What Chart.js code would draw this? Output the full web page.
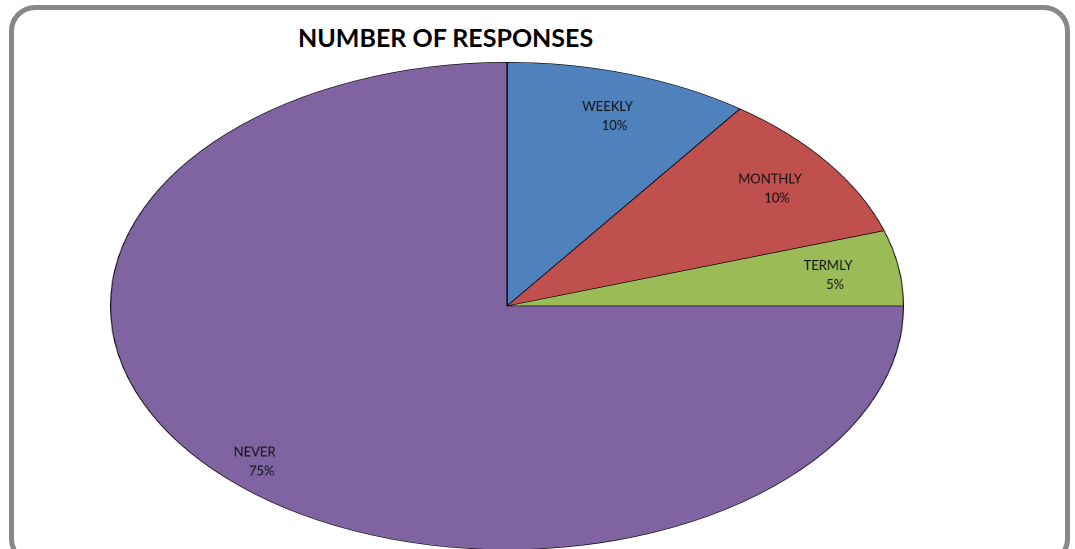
<!DOCTYPE html>
<html>
<head>
<meta charset="utf-8">
<script src="https://cdn.jsdelivr.net/npm/chart.js@4.4.1/dist/chart.umd.min.js"></script>
<style>
    html, body { margin: 0; padding: 0; background: #fff; overflow: hidden; }
    body { width: 1075px; height: 549px; position: relative; }
    .frame {
        position: absolute; left: 9px; top: 5px; width: 1061px; height: 560px;
        border: 5px solid #888; border-radius: 26px; box-sizing: border-box;
    }
    .title {
        position: absolute; left: 298px; top: 22px;
        font: bold 25px Lato, "Open Sans", sans-serif; color: #000; white-space: nowrap;
    }
    #pie { position: absolute; left: 110px; top: 62px; width: 794px !important; height: 488px !important; }
</style>
</head>
<body>
<div class="frame"></div>
<div class="title">NUMBER OF RESPONSES</div>
<canvas id="pie" width="488" height="488" style="width:794px;height:488px"></canvas>
<script>
// DATA
const categories = ['WEEKLY', 'MONTHLY', 'TERMLY', 'NEVER'];
const responses = [10, 10, 5, 75];
const colors = ['#4F81BD', '#C0504D', '#9BBB59', '#8064A2'];

// canvas is drawn square and stretched by css into an ellipse
const STRETCH = 794 / 488;

// labels drawn un-stretched so text keeps its shape
const sliceLabels = {
    id: 'sliceLabels',
    afterDatasetsDraw(chart) {
        const ctx = chart.ctx;
        const arcs = chart.getDatasetMeta(0).data;
        const total = responses.reduce((a, b) => a + b, 0);
        arcs.forEach((arc, i) => {
            const mid = (arc.startAngle + arc.endAngle) / 2;
            const f = responses[i] > 50 ? 0.9 : 0.82;
            const x = arc.x + Math.cos(mid) * arc.outerRadius * f;
            const y = arc.y + Math.sin(mid) * arc.outerRadius * f;
            ctx.save();
            ctx.translate(x, y);
            ctx.scale(1 / STRETCH, 1);
            ctx.fillStyle = '#111';
            ctx.font = '13px Lato, "Open Sans", sans-serif';
            ctx.textAlign = 'center';
            ctx.textBaseline = 'middle';
            ctx.fillText(categories[i], 0, -9);
            ctx.fillText(Math.round(responses[i] / total * 100) + '%', 7, 10);
            ctx.restore();
        });
    }
};

new Chart(document.getElementById('pie'), {
    type: 'pie',
    data: {
        labels: categories,
        datasets: [{
            data: responses,
            backgroundColor: colors,
            borderColor: '#000',
            borderWidth: 0.6
        }]
    },
    options: {
        responsive: false,
        devicePixelRatio: 2,
        animation: false,
        layout: { padding: 0 },
        plugins: {
            legend: { display: false },
            tooltip: { enabled: false }
        }
    },
    plugins: [sliceLabels]
});
</script>
</body>
</html>
